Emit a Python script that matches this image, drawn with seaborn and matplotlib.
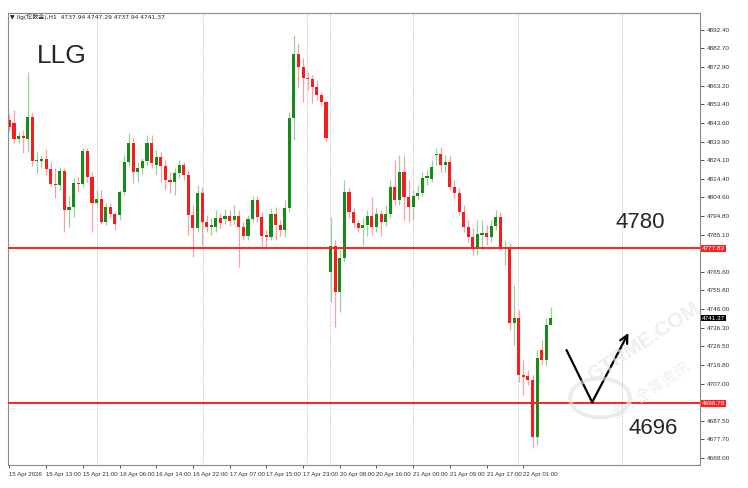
import numpy as np
import pandas as pd
import matplotlib
matplotlib.use("Agg")
import matplotlib.pyplot as plt
import matplotlib.transforms as mtransforms
from matplotlib.patches import Circle
import seaborn as sns

# H1 candles of llg
opens = [4845.2, 4843.6, 4835.2, 4836.8, 4835.2, 4846.8, 4823.7, 4823.7, 4824.7, 4819.5,
         4811.6, 4811.1, 4818.4, 4798.0, 4799.6, 4812.1, 4811.6, 4828.9, 4815.3, 4801.7,
         4803.7, 4791.7, 4799.6, 4795.9, 4795.4, 4807.4, 4823.2, 4833.1, 4817.9, 4820.0,
         4823.7, 4833.1, 4821.6, 4825.8, 4821.1, 4813.7, 4812.7, 4817.4, 4821.6, 4816.3,
         4795.4, 4788.5, 4806.9, 4791.7, 4789.1, 4789.1, 4793.8, 4793.3, 4794.8, 4792.7,
         4794.8, 4789.1, 4784.3, 4793.3, 4803.2, 4794.3, 4784.9, 4783.8, 4795.9, 4790.1,
         4787.5, 4799.0, 4846.2, 4879.8, 4873.0, 4867.2, 4866.7, 4862.5, 4858.3, 4854.6,
         4765.5, 4779.1, 4755.0, 4772.8, 4807.4, 4796.9, 4791.2, 4788.5, 4790.1, 4794.8,
         4789.1, 4795.9, 4791.7, 4795.9, 4810.0, 4803.2, 4817.9, 4804.8, 4799.6, 4805.3,
         4806.9, 4814.8, 4814.2, 4826.8, 4827.3, 4821.6, 4823.2, 4810.0, 4806.9, 4796.9,
         4789.1, 4783.8, 4778.6, 4784.9, 4785.9, 4783.8, 4789.6, 4794.3, 4778.0, 4778.6,
         4738.7, 4741.3, 4711.5, 4710.9, 4708.8, 4678.9, 4724.6, 4719.3, 4737.94]
highs = [4848.3, 4850.4, 4838.9, 4839.9, 4870.3, 4848.8, 4828.4, 4826.8, 4830.0, 4823.2,
         4820.0, 4820.5, 4820.0, 4805.3, 4814.8, 4815.3, 4830.5, 4830.5, 4817.9, 4808.5,
         4808.5, 4801.7, 4801.7, 4796.9, 4808.5, 4826.8, 4838.4, 4836.3, 4823.2, 4825.2,
         4837.3, 4837.3, 4829.4, 4828.4, 4824.2, 4817.9, 4820.0, 4824.2, 4823.2, 4819.0,
         4800.6, 4811.1, 4810.0, 4795.4, 4793.8, 4798.0, 4796.4, 4798.5, 4798.0, 4800.6,
         4798.0, 4791.7, 4795.4, 4805.3, 4805.3, 4796.9, 4787.5, 4799.0, 4799.6, 4792.7,
         4803.2, 4849.4, 4889.8, 4885.6, 4877.7, 4870.3, 4868.8, 4866.2, 4859.9, 4855.7,
         4794.3, 4782.2, 4777.0, 4813.7, 4809.5, 4799.0, 4792.7, 4793.8, 4798.0, 4804.8,
         4799.0, 4798.0, 4800.6, 4813.7, 4824.2, 4826.8, 4826.8, 4813.7, 4808.5, 4811.1,
         4817.9, 4819.0, 4824.2, 4830.5, 4831.0, 4826.8, 4826.8, 4813.7, 4809.5, 4800.6,
         4792.7, 4788.5, 4792.7, 4792.7, 4790.1, 4792.7, 4798.0, 4796.9, 4782.2, 4780.7,
         4758.7, 4745.5, 4719.3, 4714.1, 4711.5, 4724.6, 4729.8, 4741.3, 4747.29]
lows = [4839.4, 4833.1, 4833.1, 4827.9, 4828.4, 4821.1, 4817.4, 4820.0, 4816.3, 4810.6,
        4804.3, 4808.5, 4786.4, 4789.1, 4794.3, 4807.4, 4810.0, 4812.7, 4786.4, 4800.6,
        4790.6, 4790.1, 4793.8, 4787.5, 4792.7, 4805.8, 4821.1, 4812.1, 4812.7, 4816.9,
        4821.6, 4820.0, 4816.3, 4812.7, 4808.5, 4806.9, 4805.8, 4814.8, 4813.7, 4784.9,
        4773.3, 4786.4, 4779.6, 4786.4, 4784.9, 4786.4, 4788.5, 4790.6, 4789.6, 4790.6,
        4768.1, 4782.2, 4782.2, 4791.7, 4791.7, 4779.1, 4779.1, 4782.2, 4782.2, 4784.3,
        4783.8, 4796.9, 4834.7, 4862.5, 4854.6, 4860.9, 4854.1, 4855.7, 4852.5, 4834.2,
        4749.7, 4736.6, 4744.5, 4770.7, 4793.8, 4788.5, 4786.4, 4779.6, 4784.3, 4784.9,
        4786.4, 4784.3, 4789.6, 4793.8, 4800.6, 4800.6, 4792.7, 4791.7, 4792.7, 4803.2,
        4805.3, 4811.1, 4812.7, 4821.6, 4817.9, 4817.9, 4808.5, 4804.3, 4795.4, 4786.4,
        4781.2, 4774.4, 4774.4, 4777.0, 4779.6, 4781.2, 4787.5, 4777.0, 4769.1, 4735.1,
        4727.2, 4707.8, 4701.0, 4706.2, 4673.2, 4674.7, 4716.7, 4716.7, 4737.94]
closes = [4841.5, 4835.2, 4836.8, 4835.7, 4846.8, 4823.7, 4824.2, 4824.7, 4819.5, 4811.6,
          4811.1, 4818.4, 4798.0, 4799.6, 4812.1, 4811.6, 4828.9, 4815.3, 4801.7, 4803.7,
          4791.7, 4799.6, 4795.9, 4790.6, 4807.4, 4823.2, 4833.1, 4817.9, 4820.0, 4823.7,
          4833.1, 4822.6, 4825.8, 4821.1, 4813.7, 4812.7, 4817.4, 4821.6, 4816.3, 4795.4,
          4788.5, 4806.9, 4791.7, 4789.1, 4790.1, 4793.8, 4791.2, 4794.8, 4792.2, 4794.8,
          4789.1, 4784.3, 4793.3, 4803.2, 4794.3, 4784.3, 4783.8, 4795.9, 4790.1, 4787.5,
          4799.0, 4846.2, 4879.8, 4873.0, 4867.2, 4866.7, 4862.5, 4858.3, 4854.6, 4835.7,
          4779.1, 4755.0, 4772.8, 4807.4, 4796.9, 4791.2, 4788.5, 4790.1, 4794.8, 4789.1,
          4795.9, 4791.7, 4795.9, 4810.0, 4803.2, 4817.9, 4804.8, 4799.6, 4805.3, 4806.9,
          4814.8, 4815.8, 4820.5, 4827.3, 4821.6, 4823.2, 4810.0, 4806.9, 4796.9, 4789.1,
          4783.8, 4778.6, 4785.4, 4785.9, 4783.8, 4789.6, 4794.3, 4778.6, 4778.6, 4738.7,
          4741.3, 4711.5, 4710.4, 4708.8, 4678.9, 4720.4, 4719.3, 4737.7, 4741.37]

time_labels = ["15 Apr 2026", "15 Apr 13:00", "15 Apr 21:00", "16 Apr 06:00", "16 Apr 14:00",
               "16 Apr 22:00", "17 Apr 07:00", "17 Apr 15:00", "17 Apr 23:00", "20 Apr 08:00",
               "20 Apr 16:00", "21 Apr 00:00", "21 Apr 09:00", "21 Apr 17:00", "22 Apr 01:00"]
# 4775.30 and 4697.20 sit under the red price boxes in the terminal, so left out
price_ticks = [4892.40, 4882.70, 4872.90, 4863.20, 4853.40, 4843.60, 4833.90, 4824.10,
               4814.40, 4804.60, 4794.80, 4785.10, 4765.60, 4755.80, 4746.00,
               4736.30, 4726.50, 4716.80, 4707.00, 4687.50, 4677.70, 4668.00]
grid_bars = [19.2, 42.3, 64.8, 69.9, 88.0, 110.9, 133.6]
level_lines = [4777.83, 4696.78]
last_price = 4741.37
# hand-drawn V arrow (bar index, price)
arrow_x = [121.4, 127.0, 134.9]
arrow_y = [4724.6, 4697.2, 4733.5]

sns.set_style("white")
plt.rcParams["font.family"] = ["Liberation Sans", "Noto Sans CJK SC", "DejaVu Sans"]

df = pd.DataFrame({"o": opens, "h": highs, "l": lows, "c": closes})
df["i"] = np.arange(len(df))
df["up"] = df["c"] >= df["o"]

fig = plt.figure(figsize=(7.48, 4.88), dpi=100)
ax = fig.add_axes([8 / 748, 23 / 488, 692 / 748, 452 / 488])

for xb in grid_bars:
    ax.axvline(xb, color="#b8b8b8", lw=0.7, ls=(0, (1, 1.5)), zorder=0)

wick_col = np.where(df["up"], "#9ccf9c", "#f3a3a3")
body_col = np.where(df["up"], "#178a17", "#f51d1d")
ax.vlines(df["i"], df["l"], df["h"], colors=wick_col, lw=0.9, zorder=1)
body_h = (df["c"] - df["o"]).abs().clip(lower=0.6)
body_b = df[["o", "c"]].min(axis=1)
ax.bar(df["i"], body_h, bottom=body_b, width=0.68, color=body_col, lw=0, zorder=2)

for lv in level_lines:
    ax.axhline(lv, color="#ff2020", lw=1.4, zorder=3)

ax.plot(arrow_x[:2], arrow_y[:2], color="black", lw=1.6, zorder=4)
ax.annotate("", xy=(arrow_x[2], arrow_y[2]), xytext=(arrow_x[1], arrow_y[1]),
            arrowprops=dict(arrowstyle="->", color="black", lw=1.6, mutation_scale=14,
                            shrinkA=0, shrinkB=0), zorder=4)

ax.set_xlim(-0.3, 150.5)
ax.set_ylim(4664.3, 4901.3)

ax.yaxis.tick_right()
ax.set_yticks(price_ticks)
ax.set_yticklabels([f"{v:.2f}" for v in price_ticks])
ax.set_xticks(range(0, 8 * len(time_labels), 8))
ax.set_xticklabels(time_labels, ha="left")
ax.tick_params(axis="y", right=True, length=3, width=0.6, pad=2, labelsize=4.6,
               colors="#333333", direction="out")
ax.tick_params(axis="x", bottom=True, length=2, width=0.6, pad=3, labelsize=4.4,
               colors="#333333", direction="out")
for sp in ax.spines.values():
    sp.set_color("#8a8a8a")
    sp.set_linewidth(0.8)

trans = mtransforms.blended_transform_factory(ax.transAxes, ax.transData)
for lv in level_lines:
    ax.text(1.003, lv, f"{lv:.2f}", transform=trans, ha="left", va="center", fontsize=4.6,
            color="white", bbox=dict(boxstyle="square,pad=0.15", fc="#ff2020", ec="none"),
            zorder=6)
ax.text(1.003, last_price, f"{last_price:.2f}", transform=trans, ha="left", va="center",
        fontsize=4.6, color="white",
        bbox=dict(boxstyle="square,pad=0.15", fc="black", ec="none"), zorder=6)

fig.text(10 / 748, 1 - 17 / 488, "▼ llg(伦敦金),H1  4737.94 4747.29 4737.94 4741.37",
         fontsize=4.3, va="center", color="#222222",
         family=["DejaVu Sans", "Noto Sans CJK SC"])
ax.text(6.1, 4878.5, "LLG", fontsize=19, va="center", ha="left")
ax.text(132.0, 4791.6, "4780", fontsize=16, va="center", ha="left")
ax.text(134.9, 4683.6, "4696", fontsize=16, va="center", ha="left")

# faint watermark in the lower right corner
fig.add_artist(Circle((600 / 748, 1 - 398 / 488), 0.04, transform=fig.transFigure,
                      fill=False, ec="#e0e0e0", lw=3, alpha=0.6))
fig.text(0.86, 0.30, "GTRME.COM", rotation=33, fontsize=15, color="#e8e8e8",
         ha="center", va="center", weight="bold", alpha=0.7)
fig.text(0.87, 0.20, "金十全景资讯", rotation=33, fontsize=11, color="#e8e8e8",
         ha="center", va="center", alpha=0.7,
         family=["Noto Sans CJK SC", "DejaVu Sans"])

fig.savefig("out.png", dpi=100)
